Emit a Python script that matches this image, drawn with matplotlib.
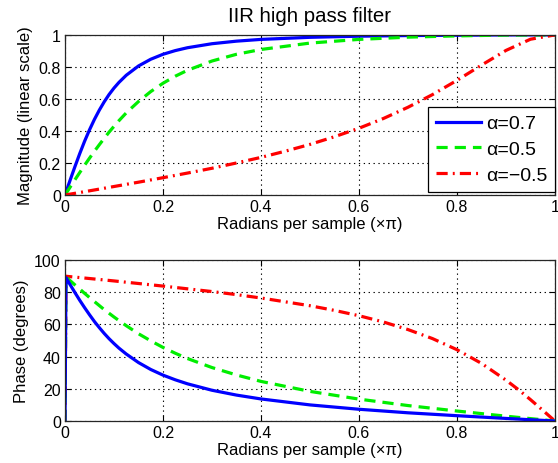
import matplotlib
matplotlib.use("Agg")
import matplotlib.pyplot as plt

plt.rcParams['font.family'] = ['Liberation Sans', 'DejaVu Sans']

# ---- data ----
labels = ['α=0.7', 'α=0.5', 'α=−0.5']

mag_x_a = [0, 0.01, 0.02, 0.03, 0.04, 0.05, 0.06, 0.07, 0.08, 0.09, 0.1, 0.11, 0.125,
           0.15, 0.175, 0.2, 0.225, 0.25, 0.3, 0.35, 0.4, 0.5, 0.6, 0.7, 0.8, 0.9, 1.0]
mag_07 = [0, 0.089, 0.175, 0.258, 0.336, 0.407, 0.472, 0.530, 0.582, 0.628, 0.668,
          0.703, 0.748, 0.806, 0.848, 0.879, 0.902, 0.920, 0.945, 0.961, 0.972, 0.985,
          0.992, 0.996, 0.998, 1.0, 1.0]
mag_05 = [0, 0.047, 0.094, 0.140, 0.186, 0.230, 0.273, 0.314, 0.354, 0.393, 0.429,
          0.464, 0.513, 0.584, 0.646, 0.698, 0.742, 0.779, 0.837, 0.879, 0.909, 0.949,
          0.972, 0.986, 0.994, 0.999, 1.0]
mag_x_b = [0, 0.05, 0.1, 0.15, 0.2, 0.25, 0.3, 0.35, 0.4, 0.45, 0.5, 0.55, 0.6, 0.65,
           0.7, 0.75, 0.8, 0.85, 0.9, 0.95, 1.0]
mag_m05 = [0, 0.026, 0.053, 0.080, 0.108, 0.137, 0.167, 0.200, 0.235, 0.274, 0.316,
           0.364, 0.417, 0.478, 0.548, 0.627, 0.716, 0.811, 0.903, 0.973, 1.0]

ph_x_a = [0, 0.002, 0.005, 0.01, 0.02, 0.03, 0.04, 0.05, 0.06, 0.07, 0.08, 0.09, 0.1,
          0.11, 0.125, 0.15, 0.175, 0.2, 0.225, 0.25, 0.3, 0.35, 0.4, 0.5, 0.6, 0.7,
          0.8, 0.9, 1.0]
ph_07 = [0, 89.0, 87.5, 84.9, 79.9, 75.0, 70.4, 66.0, 61.8, 58.0, 54.4, 51.1, 48.1,
         45.3, 41.6, 36.3, 32.0, 28.5, 25.6, 23.1, 19.1, 16.1, 13.7, 10.0, 7.3, 5.1,
         3.3, 1.6, 0]
ph_05 = [0, 89.5, 88.7, 87.3, 84.6, 82.0, 79.3, 76.7, 74.2, 71.7, 69.2, 66.9, 64.6,
         62.4, 59.2, 54.2, 49.8, 45.7, 42.1, 38.8, 33.2, 28.6, 24.6, 18.4, 13.6, 9.6,
         6.2, 3.0, 0]
ph_x_b = [0, 0.002, 0.05, 0.1, 0.15, 0.2, 0.25, 0.3, 0.35, 0.4, 0.5, 0.55, 0.6, 0.65,
          0.7, 0.75, 0.8, 0.85, 0.9, 0.925, 0.95, 0.975, 1.0]
ph_m05 = [0, 89.9, 88.5, 87.0, 85.4, 83.8, 82.1, 80.4, 78.5, 76.4, 71.6, 68.7, 65.4,
          61.5, 56.8, 51.2, 44.3, 35.8, 25.4, 19.6, 13.3, 6.7, 0]

xticks = [0, 0.2, 0.4, 0.6, 0.8, 1]
xticklabels = ['0', '0.2', '0.4', '0.6', '0.8', '1']
mag_yticks = [0, 0.2, 0.4, 0.6, 0.8, 1]
mag_yticklabels = ['0', '0.2', '0.4', '0.6', '0.8', '1']
ph_yticks = [0, 20, 40, 60, 80, 100]

# ---- styles ----
blue = '#0000ff'
green = '#00ee00'
red = '#ff0000'
lw = 2.3
dash_g = (0, (3.5, 2.2))
dash_r = (0, (3.5, 1.6, 0.6, 1.6))
grid_style = (0, (1.2, 3.2))

fig = plt.figure(figsize=(5.58, 4.64), dpi=100)
ax1 = fig.add_axes([0.1165, 0.5776, 0.878, 0.345])
ax2 = fig.add_axes([0.1165, 0.0905, 0.878, 0.347])

ax1.plot(mag_x_a, mag_07, color=blue, lw=lw, linestyle='-', label=labels[0])
ax1.plot(mag_x_a, mag_05, color=green, lw=lw, linestyle=dash_g, label=labels[1])
ax1.plot(mag_x_b, mag_m05, color=red, lw=lw, linestyle=dash_r, label=labels[2])

ax2.plot(ph_x_b, ph_m05, color=red, lw=lw, linestyle=dash_r)
ax2.plot(ph_x_a, ph_05, color=green, lw=lw, linestyle=dash_g)
ax2.plot(ph_x_a, ph_07, color=blue, lw=lw, linestyle='-')

for ax in (ax1, ax2):
    ax.set_xlim(0, 1)
    ax.set_xticks(xticks)
    ax.set_xticklabels(xticklabels)
    ax.grid(True, color='black', linestyle=grid_style, linewidth=0.8)
    ax.tick_params(direction='in', top=True, right=True, length=4, width=0.8,
                   labelsize=11.5, pad=3)
    for s in ax.spines.values():
        s.set_linewidth(0.9)
        s.set_color('#262626')
    ax.set_xlabel('Radians per sample (×π)', fontsize=12, labelpad=1)

ax1.set_ylim(0, 1)
ax1.set_yticks(mag_yticks)
ax1.set_yticklabels(mag_yticklabels)
ax1.set_ylabel('Magnitude (linear scale)', fontsize=12, labelpad=4)
ax1.set_title('IIR high pass filter', fontsize=14.7, pad=10)

ax2.set_ylim(0, 100)
ax2.set_yticks(ph_yticks)
ax2.set_ylabel('Phase (degrees)', fontsize=12, labelpad=4)

leg = ax1.legend(loc='lower right', fontsize=14, handlelength=2.3, handletextpad=0.25,
                 bbox_to_anchor=(1.0, 0.02), borderaxespad=0.0, labelspacing=0.42,
                 borderpad=0.4, fancybox=False, framealpha=1, edgecolor='black')
leg.get_frame().set_linewidth(0.9)

fig.savefig('out.png', dpi=100)
